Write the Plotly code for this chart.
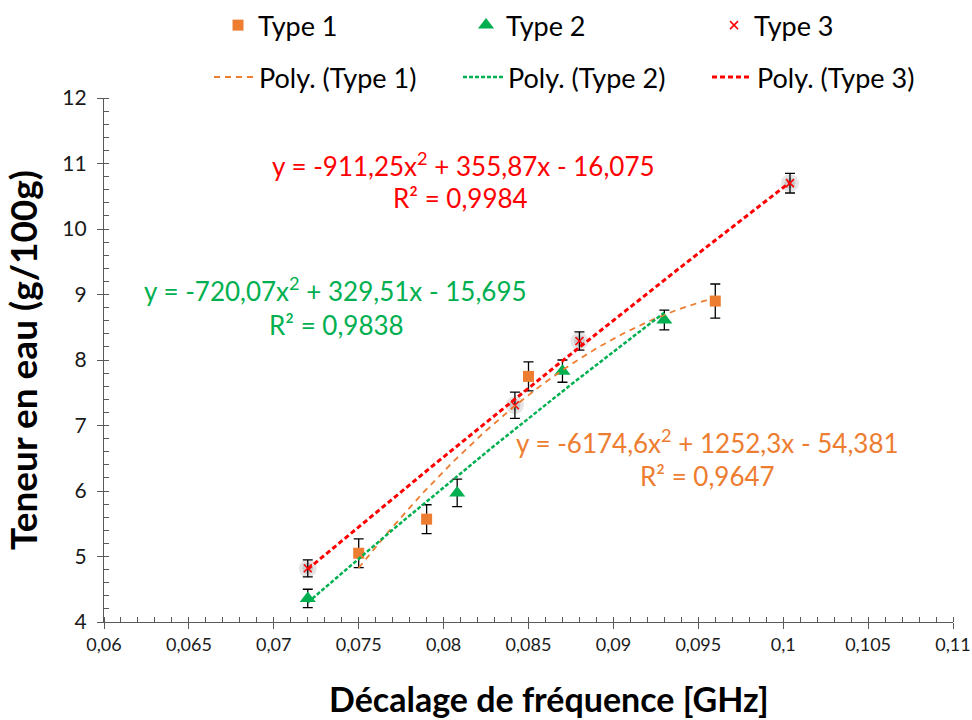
import numpy as np
import plotly.graph_objects as go

# ---- data ----
t1_x = [0.075, 0.079, 0.085, 0.096]
t1_y = [5.05, 5.57, 7.75, 8.90]
t1_err = [0.22, 0.22, 0.22, 0.26]

t2_x = [0.072, 0.0808, 0.087, 0.093]
t2_y = [4.36, 5.97, 7.83, 8.61]
t2_err = [0.14, 0.21, 0.17, 0.15]

t3_x = [0.072, 0.0842, 0.088, 0.1004]
t3_y = [4.82, 7.31, 8.29, 10.70]
t3_err = [0.13, 0.20, 0.14, 0.15]

eq1 = ["y = -6174,6x<sup>2</sup> + 1252,3x - 54,381", "R² = 0,9647"]
eq2 = ["y = -720,07x<sup>2</sup> + 329,51x - 15,695", "R² = 0,9838"]
eq3 = ["y = -911,25x<sup>2</sup> + 355,87x - 16,075", "R² = 0,9984"]

x_ticks = [0.06, 0.065, 0.07, 0.075, 0.08, 0.085, 0.09, 0.095, 0.1, 0.105, 0.11]
x_tick_labels = ["0,06", "0,065", "0,07", "0,075", "0,08", "0,085", "0,09", "0,095", "0,1", "0,105", "0,11"]

x_title = "Décalage de fréquence [GHz]"
y_title = "Teneur en eau (g/100g)"

FONT = "Lato"
ORANGE = "#ED7D31"
GREEN = "#00B050"
RED = "#FF0000"


def trend(xs, ys):
    c = np.polyfit(xs, ys, 2)
    gx = np.linspace(min(xs), max(xs), 120)
    return gx, np.polyval(c, gx)


fig = go.Figure()

# soft grey glow behind Type 3 markers
fig.add_trace(go.Scatter(x=t3_x, y=t3_y, mode="markers", showlegend=False, hoverinfo="skip",
                         marker=dict(size=18, color="rgba(150,150,150,0.25)", line=dict(width=0))))
fig.add_trace(go.Scatter(x=t3_x, y=t3_y, mode="markers", showlegend=False, hoverinfo="skip",
                         marker=dict(size=11, color="rgba(150,150,150,0.35)", line=dict(width=0))))

err_style = dict(type="data", visible=True, color="#000000", thickness=1.3, width=5)

fig.add_trace(go.Scatter(x=t1_x, y=t1_y, mode="markers", name="Type 1", legend="legend",
                         error_y=dict(array=t1_err, **err_style),
                         marker=dict(symbol="square", size=11, color=ORANGE)))
fig.add_trace(go.Scatter(x=t2_x, y=t2_y, mode="markers", name="Type 2", legend="legend",
                         error_y=dict(array=t2_err, **err_style),
                         marker=dict(symbol="triangle-up", size=14, color=GREEN)))
fig.add_trace(go.Scatter(x=t3_x, y=t3_y, mode="markers", name="Type 3", legend="legend",
                         error_y=dict(array=t3_err, **err_style),
                         marker=dict(symbol="x-thin", size=8, color=RED, line=dict(width=1.5, color=RED))))

gx, gy = trend(t1_x, t1_y)
fig.add_trace(go.Scatter(x=gx, y=gy, mode="lines", name="Poly. (Type 1)", legend="legend2",
                         line=dict(color=ORANGE, width=1.8, dash="6px,5px")))
gx, gy = trend(t2_x, t2_y)
fig.add_trace(go.Scatter(x=gx, y=gy, mode="lines", name="Poly. (Type 2)", legend="legend2",
                         line=dict(color=GREEN, width=2.5, dash="4px,2px")))
gx, gy = trend(t3_x, t3_y)
fig.add_trace(go.Scatter(x=gx, y=gy, mode="lines", name="Poly. (Type 3)", legend="legend2",
                         line=dict(color=RED, width=3, dash="5px,3px")))

ann = []
for (l1, l2), col, (x1, y1), (x2, y2) in [
    (eq3, RED, (0.0812, 10.98), (0.0810, 10.47)),
    (eq2, GREEN, (0.07365, 9.07), (0.0737, 8.53)),
    (eq1, ORANGE, (0.09553, 6.75), (0.09553, 6.23)),
]:
    ann.append(dict(x=x1, y=y1, xref="x", yref="y", text=l1, showarrow=False,
                    font=dict(family=FONT, size=26, color=col), xanchor="center", yanchor="middle"))
    ann.append(dict(x=x2, y=y2, xref="x", yref="y", text=l2, showarrow=False,
                    font=dict(family=FONT, size=26, color=col), xanchor="center", yanchor="middle"))

# x axis title (placed slightly right of centre, as in the original)
ann.append(dict(x=0.524, y=-0.146, xref="paper", yref="paper", text="<b>" + x_title + "</b>",
                showarrow=False, font=dict(family=FONT, size=34, color="#000000"),
                xanchor="center", yanchor="middle"))

axis_common = dict(showline=True, linecolor="#595959", linewidth=1.3, showgrid=False, zeroline=False,
                   ticks="outside", ticklen=6, tickwidth=1.3, tickcolor="#595959", automargin=False,
                   ticklabeloverflow="allow")

fig.update_layout(
    width=972, height=720,
    margin=dict(l=104, r=19, t=98, b=98, autoexpand=False),
    paper_bgcolor="white", plot_bgcolor="white",
    font=dict(family=FONT, color="#000000"),
    xaxis=dict(range=[0.06, 0.11], tickvals=x_ticks, ticktext=x_tick_labels,
               tickfont=dict(family=FONT, size=18, color="#1a1a1a"),
               minor=dict(dtick=0.001, ticks="inside", ticklen=5, tickcolor="#595959", tickwidth=1),
               **axis_common),
    yaxis=dict(range=[4, 12], dtick=1,
               tickfont=dict(family=FONT, size=21, color="#1a1a1a"), ticklabelstandoff=6,
               minor=dict(dtick=0.2, ticks="inside", ticklen=5, tickcolor="#595959", tickwidth=1),
               title=dict(text="<b>" + y_title + "</b>", font=dict(family=FONT, size=37), standoff=17),
               **axis_common),
    legend=dict(orientation="h", x=0.1343, xanchor="left", y=1.185, yanchor="top",
                entrywidth=203, entrywidthmode="pixels", font=dict(family=FONT, size=27),
                bgcolor="rgba(0,0,0,0)", itemwidth=30),
    legend2=dict(orientation="h", x=0.1237, xanchor="left", y=1.086, yanchor="top",
                 entrywidth=194, entrywidthmode="pixels", font=dict(family=FONT, size=27),
                 bgcolor="rgba(0,0,0,0)", itemwidth=40),
    annotations=ann,
)

# remove the browser's default body margin so the 972x720 figure fills the window exactly
fig.write_html("out.html", config={"displayModeBar": False},
               post_script="document.body.style.margin='0';document.body.style.overflow='hidden';")
